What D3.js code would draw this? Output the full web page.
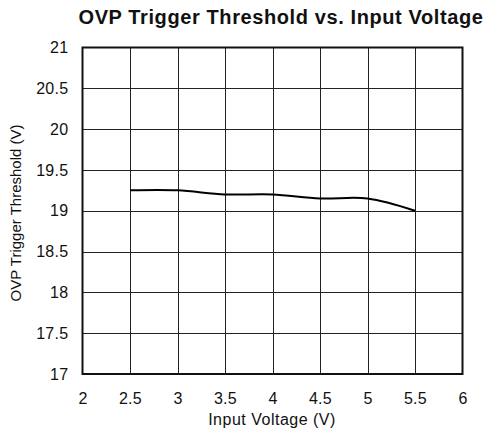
<!DOCTYPE html>
<html lang="en">
<head>
<meta charset="UTF-8">
<title>OVP Trigger Threshold vs. Input Voltage</title>
<script src="https://cdn.jsdelivr.net/npm/d3@7"></script>
<style>
  body { margin: 0; background: #fff; }
  text { font-family: "Liberation Sans", Arial, sans-serif; fill: #111; }
</style>
</head>
<body>
<script>
    // data
    var inputVoltage = [2.5, 3, 3.5, 4, 4.5, 5, 5.5];
    var threshold = [19.25, 19.25, 19.2, 19.2, 19.15, 19.15, 19.0];
    var xTicks = [2, 2.5, 3, 3.5, 4, 4.5, 5, 5.5, 6];
    var yTicks = [17, 17.5, 18, 18.5, 19, 19.5, 20, 20.5, 21];

    var widthSVG = 490, heightSVG = 434;
    var padding = {top: 47.5, bottom: 60, left: 82.5, right: 27.5};

    var svg = d3.select("body").append("svg")
                .attr("width", widthSVG)
                .attr("height", heightSVG);

    var scaleX = d3.scaleLinear().domain([2, 6]).range([padding.left, widthSVG - padding.right]);
    var scaleY = d3.scaleLinear().domain([17, 21]).range([heightSVG - padding.bottom, padding.top]);

    // grid
    svg.append("g").selectAll("line").data(xTicks.slice(1, -1)).enter().append("line")
        .attr("x1", d => Math.round(scaleX(d)) + 0.5).attr("x2", d => Math.round(scaleX(d)) + 0.5)
        .attr("y1", scaleY(17)).attr("y2", scaleY(21))
        .attr("stroke", "#222").attr("stroke-width", 1);
    svg.append("g").selectAll("line").data(yTicks.slice(1, -1)).enter().append("line")
        .attr("y1", d => Math.round(scaleY(d)) + 0.5).attr("y2", d => Math.round(scaleY(d)) + 0.5)
        .attr("x1", scaleX(2)).attr("x2", scaleX(6))
        .attr("stroke", "#222").attr("stroke-width", 1);

    // frame
    svg.append("rect")
        .attr("x", scaleX(2)).attr("y", scaleY(21))
        .attr("width", scaleX(6) - scaleX(2)).attr("height", scaleY(17) - scaleY(21))
        .attr("fill", "none").attr("stroke", "#111").attr("stroke-width", 2);

    // axes labels (tick text only)
    var axisX = d3.axisBottom(scaleX).tickValues(xTicks).tickSize(0).tickPadding(19).tickFormat(d3.format("~g"));
    var axisY = d3.axisLeft(scaleY).tickValues(yTicks).tickSize(0).tickPadding(14).tickFormat(d3.format("~g"));
    var gx = svg.append("g").attr("transform", "translate(0," + scaleY(17) + ")").call(axisX);
    var gy = svg.append("g").attr("transform", "translate(" + scaleX(2) + ",0)").call(axisY);
    [gx, gy].forEach(function (g) {
        g.select(".domain").remove();
        g.selectAll("text").attr("font-size", "16px").attr("font-family", "Liberation Sans, Arial, sans-serif")
            .attr("fill", "#111").attr("letter-spacing", "0.3px");
    });

    // curve
    var line = d3.line()
        .x((d, i) => scaleX(inputVoltage[i]))
        .y(d => scaleY(d))
        .curve(d3.curveCatmullRom.alpha(0.5));
    svg.append("path")
        .datum(threshold)
        .attr("d", line)
        .attr("fill", "none")
        .attr("stroke", "#000")
        .attr("stroke-width", 2);

    // titles
    svg.append("text").attr("x", 281).attr("y", 24)
        .attr("text-anchor", "middle").attr("font-size", "20px").attr("font-weight", "bold")
        .attr("letter-spacing", "0.6px")
        .text("OVP Trigger Threshold vs. Input Voltage");
    svg.append("text").attr("x", 272).attr("y", 425)
        .attr("text-anchor", "middle").attr("font-size", "16px").attr("letter-spacing", "0.5px")
        .text("Input Voltage (V)");
    svg.append("text")
        .attr("transform", "translate(21,213) rotate(-90)")
        .attr("text-anchor", "middle").attr("font-size", "15px")
        .text("OVP Trigger Threshold (V)");
</script>
</body>
</html>
